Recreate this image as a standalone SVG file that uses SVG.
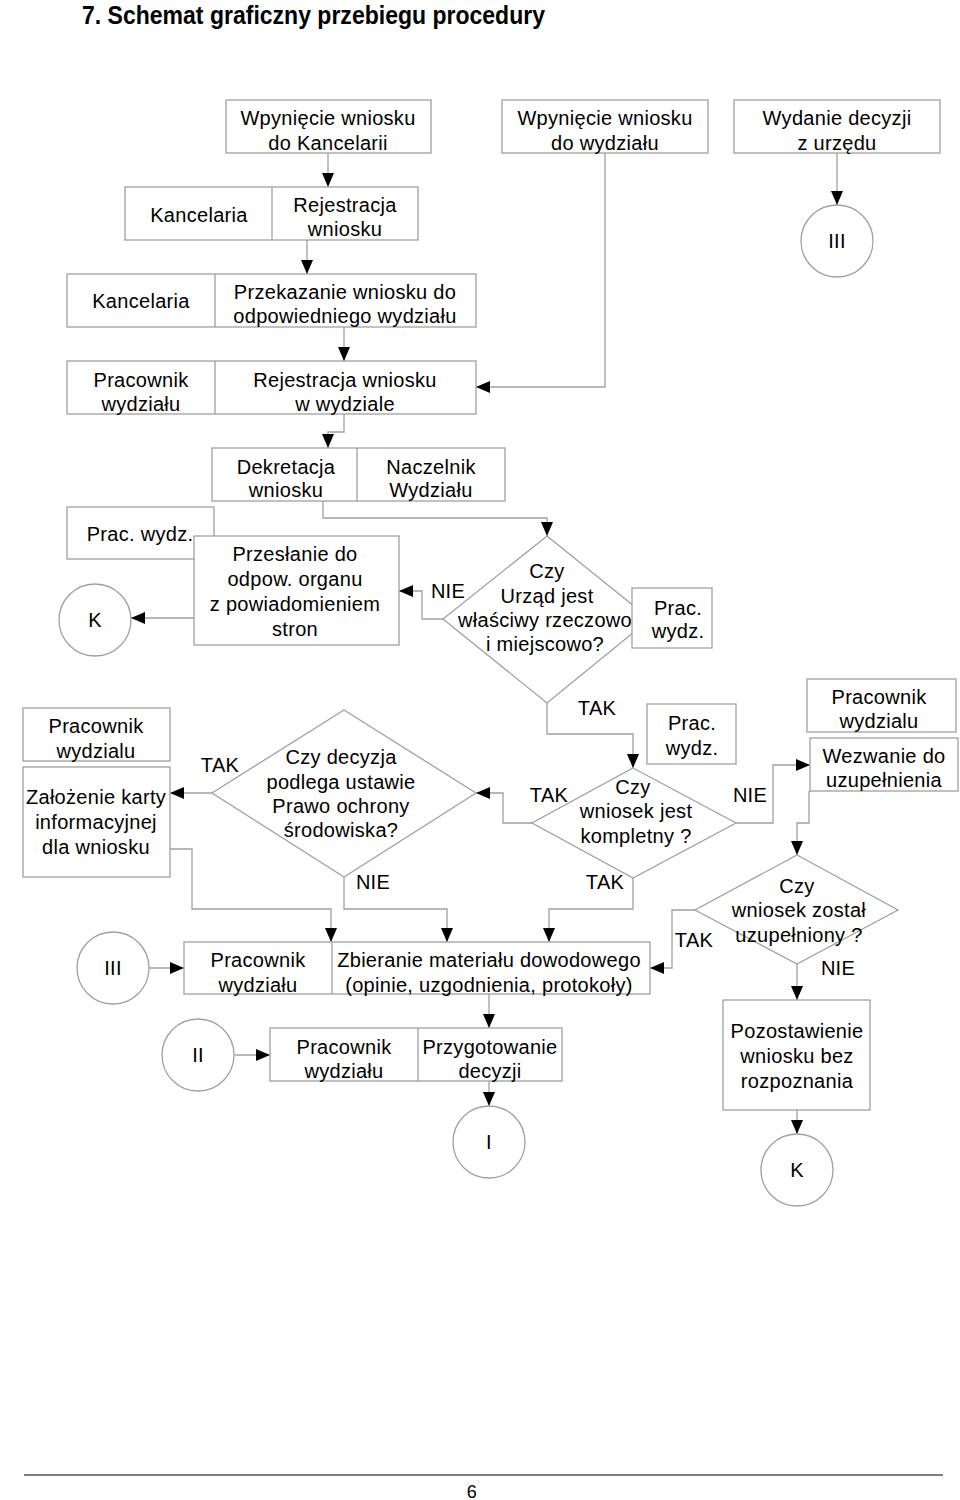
<svg xmlns="http://www.w3.org/2000/svg" width="960" height="1500" viewBox="0 0 960 1500">
<style>
.b{fill:#fff;stroke:#a0a0a0;stroke-width:1.3}
.c{fill:none;stroke:#a0a0a0;stroke-width:1.3}
text{font-family:"Liberation Sans",Arial,sans-serif;font-size:20px;fill:#000;text-anchor:middle;letter-spacing:0.3px}
.t{font-weight:bold;font-size:26px;text-anchor:start;letter-spacing:0}
.f{font-size:18px}
</style>
<defs>
<marker id="a" markerUnits="userSpaceOnUse" markerWidth="14" markerHeight="12" refX="14" refY="6" orient="auto">
<path d="M0,0 L14,6 L0,12 z" fill="#000"/>
</marker>
</defs>
<rect width="960" height="1500" fill="#fff"/>
<text class="t" x="82" y="24" textLength="463" lengthAdjust="spacingAndGlyphs">7. Schemat graficzny przebiegu procedury</text>

<g id="connectors" class="c" marker-end="url(#a)">
<path d="M328,153 V187"/>
<path d="M307,240 V274"/>
<path d="M344,327 V361"/>
<path d="M605,153 V387 H476"/>
<path d="M837,153 V205"/>
<path d="M344,414 V432 H328 V448"/>
<path d="M323,501 V518 H547 V536"/>
<path d="M443,619 H422 V591 H399"/>
<path d="M194,618 H131"/>
<path d="M547,703 V734 H633 V768"/>
<path d="M532,823 H503 V793 H476"/>
<path d="M212,793 H170"/>
<path d="M736,823 H773 V765 H810"/>
<path d="M809,791 V823 H797 V855"/>
<path d="M695,910 H672 V968 H650"/>
<path d="M797,964 V1000"/>
<path d="M797,1110 V1134"/>
<path d="M170,849 H192 V909 H331 V942"/>
<path d="M344,877 V909 H447 V942"/>
<path d="M633,878 V909 H549 V942"/>
<path d="M149,968 H184"/>
<path d="M489,994 V1028"/>
<path d="M235,1055 H270"/>
<path d="M489,1081 V1106"/>
</g>

<g id="n1"><rect class="b" x="226" y="100" width="205" height="53"/><text x="328" y="125">Wpynięcie wniosku</text><text x="328" y="150">do Kancelarii</text></g>
<g id="n2"><rect class="b" x="502" y="100" width="206" height="53"/><text x="605" y="125">Wpynięcie wniosku</text><text x="605" y="150">do wydziału</text></g>
<g id="n3"><rect class="b" x="734" y="100" width="206" height="53"/><text x="837" y="125">Wydanie decyzji</text><text x="837" y="150">z urzędu</text></g>
<g id="c3"><circle class="b" cx="837" cy="241" r="36"/><text x="837" y="248">III</text></g>

<g id="n4"><rect class="b" x="125" y="187" width="293" height="53"/><path class="c" d="M272,187 V240"/><text x="199" y="222">Kancelaria</text><text x="345" y="212">Rejestracja</text><text x="345" y="236">wniosku</text></g>
<g id="n5"><rect class="b" x="67" y="274" width="409" height="53"/><path class="c" d="M215,274 V327"/><text x="141" y="308">Kancelaria</text><text x="345" y="299">Przekazanie wniosku do</text><text x="345" y="323">odpowiedniego wydziału</text></g>
<g id="n6"><rect class="b" x="67" y="361" width="409" height="53"/><path class="c" d="M215,361 V414"/><text x="141" y="387">Pracownik</text><text x="141" y="411">wydziału</text><text x="345" y="387">Rejestracja wniosku</text><text x="345" y="411">w wydziale</text></g>

<g id="n7"><rect class="b" x="212" y="448" width="293" height="53"/><path class="c" d="M357,448 V501"/><text x="286" y="474">Dekretacja</text><text x="286" y="497">wniosku</text><text x="431" y="474">Naczelnik</text><text x="431" y="497">Wydziału</text></g>

<g id="n8"><rect class="b" x="67" y="507" width="147" height="52"/><text x="140" y="541">Prac. wydz.</text></g>
<g id="n9"><rect class="b" x="194" y="536" width="205" height="109"/><text x="295" y="561">Przesłanie do</text><text x="295" y="586">odpow. organu</text><text x="295" y="611">z powiadomieniem</text><text x="295" y="636">stron</text></g>
<g id="k1"><circle class="b" cx="95" cy="620" r="36"/><text x="95" y="627">K</text></g>

<g id="d1"><path class="b" d="M547,536 L650,619 L547,703 L443,619 z"/><text x="547" y="578">Czy</text><text x="547" y="603">Urząd jest</text><text x="545" y="627">właściwy rzeczowo</text><text x="545" y="651">i miejscowo?</text></g>
<text x="448" y="598">NIE</text>
<g id="n10"><rect class="b" x="632" y="588" width="80" height="60"/><text x="678" y="615">Prac.</text><text x="678" y="638">wydz.</text></g>
<text x="597" y="715">TAK</text>

<g id="n11"><rect class="b" x="23" y="708" width="147" height="53"/><text x="96" y="733">Pracownik</text><text x="96" y="758">wydzialu</text></g>
<g id="n12"><rect class="b" x="23" y="767" width="147" height="110"/><text x="96" y="804">Założenie karty</text><text x="96" y="829">informacyjnej</text><text x="96" y="854">dla wniosku</text></g>

<g id="d2"><path class="b" d="M344,710 L476,793 L344,877 L212,793 z"/><text x="341" y="764">Czy decyzja</text><text x="341" y="789">podlega ustawie</text><text x="341" y="813">Prawo ochrony</text><text x="341" y="837">środowiska?</text></g>
<text x="220" y="772">TAK</text>
<text x="373" y="889">NIE</text>

<g id="n13"><rect class="b" x="647" y="704" width="89" height="60"/><text x="692" y="730">Prac.</text><text x="692" y="755">wydz.</text></g>
<g id="d3"><path class="b" d="M633,768 L736,823 L633,878 L532,823 z"/><text x="633" y="794">Czy</text><text x="636" y="818">wniosek jest</text><text x="636" y="843">kompletny ?</text></g>
<text x="549" y="802">TAK</text>
<text x="750" y="802">NIE</text>
<text x="605" y="889">TAK</text>

<g id="n14"><rect class="b" x="807" y="679" width="149" height="53"/><text x="879" y="704">Pracownik</text><text x="879" y="728">wydzialu</text></g>
<g id="n15"><rect class="b" x="810" y="738" width="148" height="53"/><text x="884" y="763">Wezwanie do</text><text x="884" y="787">uzupełnienia</text></g>

<g id="d4"><path class="b" d="M797,855 L898,910 L797,964 L695,910 z"/><text x="797" y="893">Czy</text><text x="799" y="917">wniosek został</text><text x="799" y="942">uzupełniony ?</text></g>
<text x="694" y="947">TAK</text>
<text x="838" y="975">NIE</text>

<g id="n16"><rect class="b" x="723" y="1000" width="147" height="110"/><text x="797" y="1038">Pozostawienie</text><text x="797" y="1063">wniosku bez</text><text x="797" y="1088">rozpoznania</text></g>
<g id="k2"><circle class="b" cx="797" cy="1170" r="36"/><text x="797" y="1177">K</text></g>

<g id="c3b"><circle class="b" cx="113" cy="968" r="36"/><text x="113" y="975">III</text></g>
<g id="n17"><rect class="b" x="184" y="942" width="466" height="52"/><path class="c" d="M332,942 V994"/><text x="258" y="967">Pracownik</text><text x="258" y="992">wydziału</text><text x="489" y="967">Zbieranie materiału dowodowego</text><text x="489" y="992">(opinie, uzgodnienia, protokoły)</text></g>

<g id="c2"><circle class="b" cx="198" cy="1055" r="36"/><text x="198" y="1062">II</text></g>
<g id="n18"><rect class="b" x="270" y="1028" width="292" height="53"/><path class="c" d="M418,1028 V1081"/><text x="344" y="1054">Pracownik</text><text x="344" y="1078">wydziału</text><text x="490" y="1054">Przygotowanie</text><text x="490" y="1078">decyzji</text></g>
<g id="c1"><circle class="b" cx="489" cy="1142" r="36"/><text x="489" y="1149">I</text></g>

<path d="M24,1475 H943" stroke="#000" stroke-width="1"/>
<text class="f" x="472" y="1498">6</text>
</svg>
